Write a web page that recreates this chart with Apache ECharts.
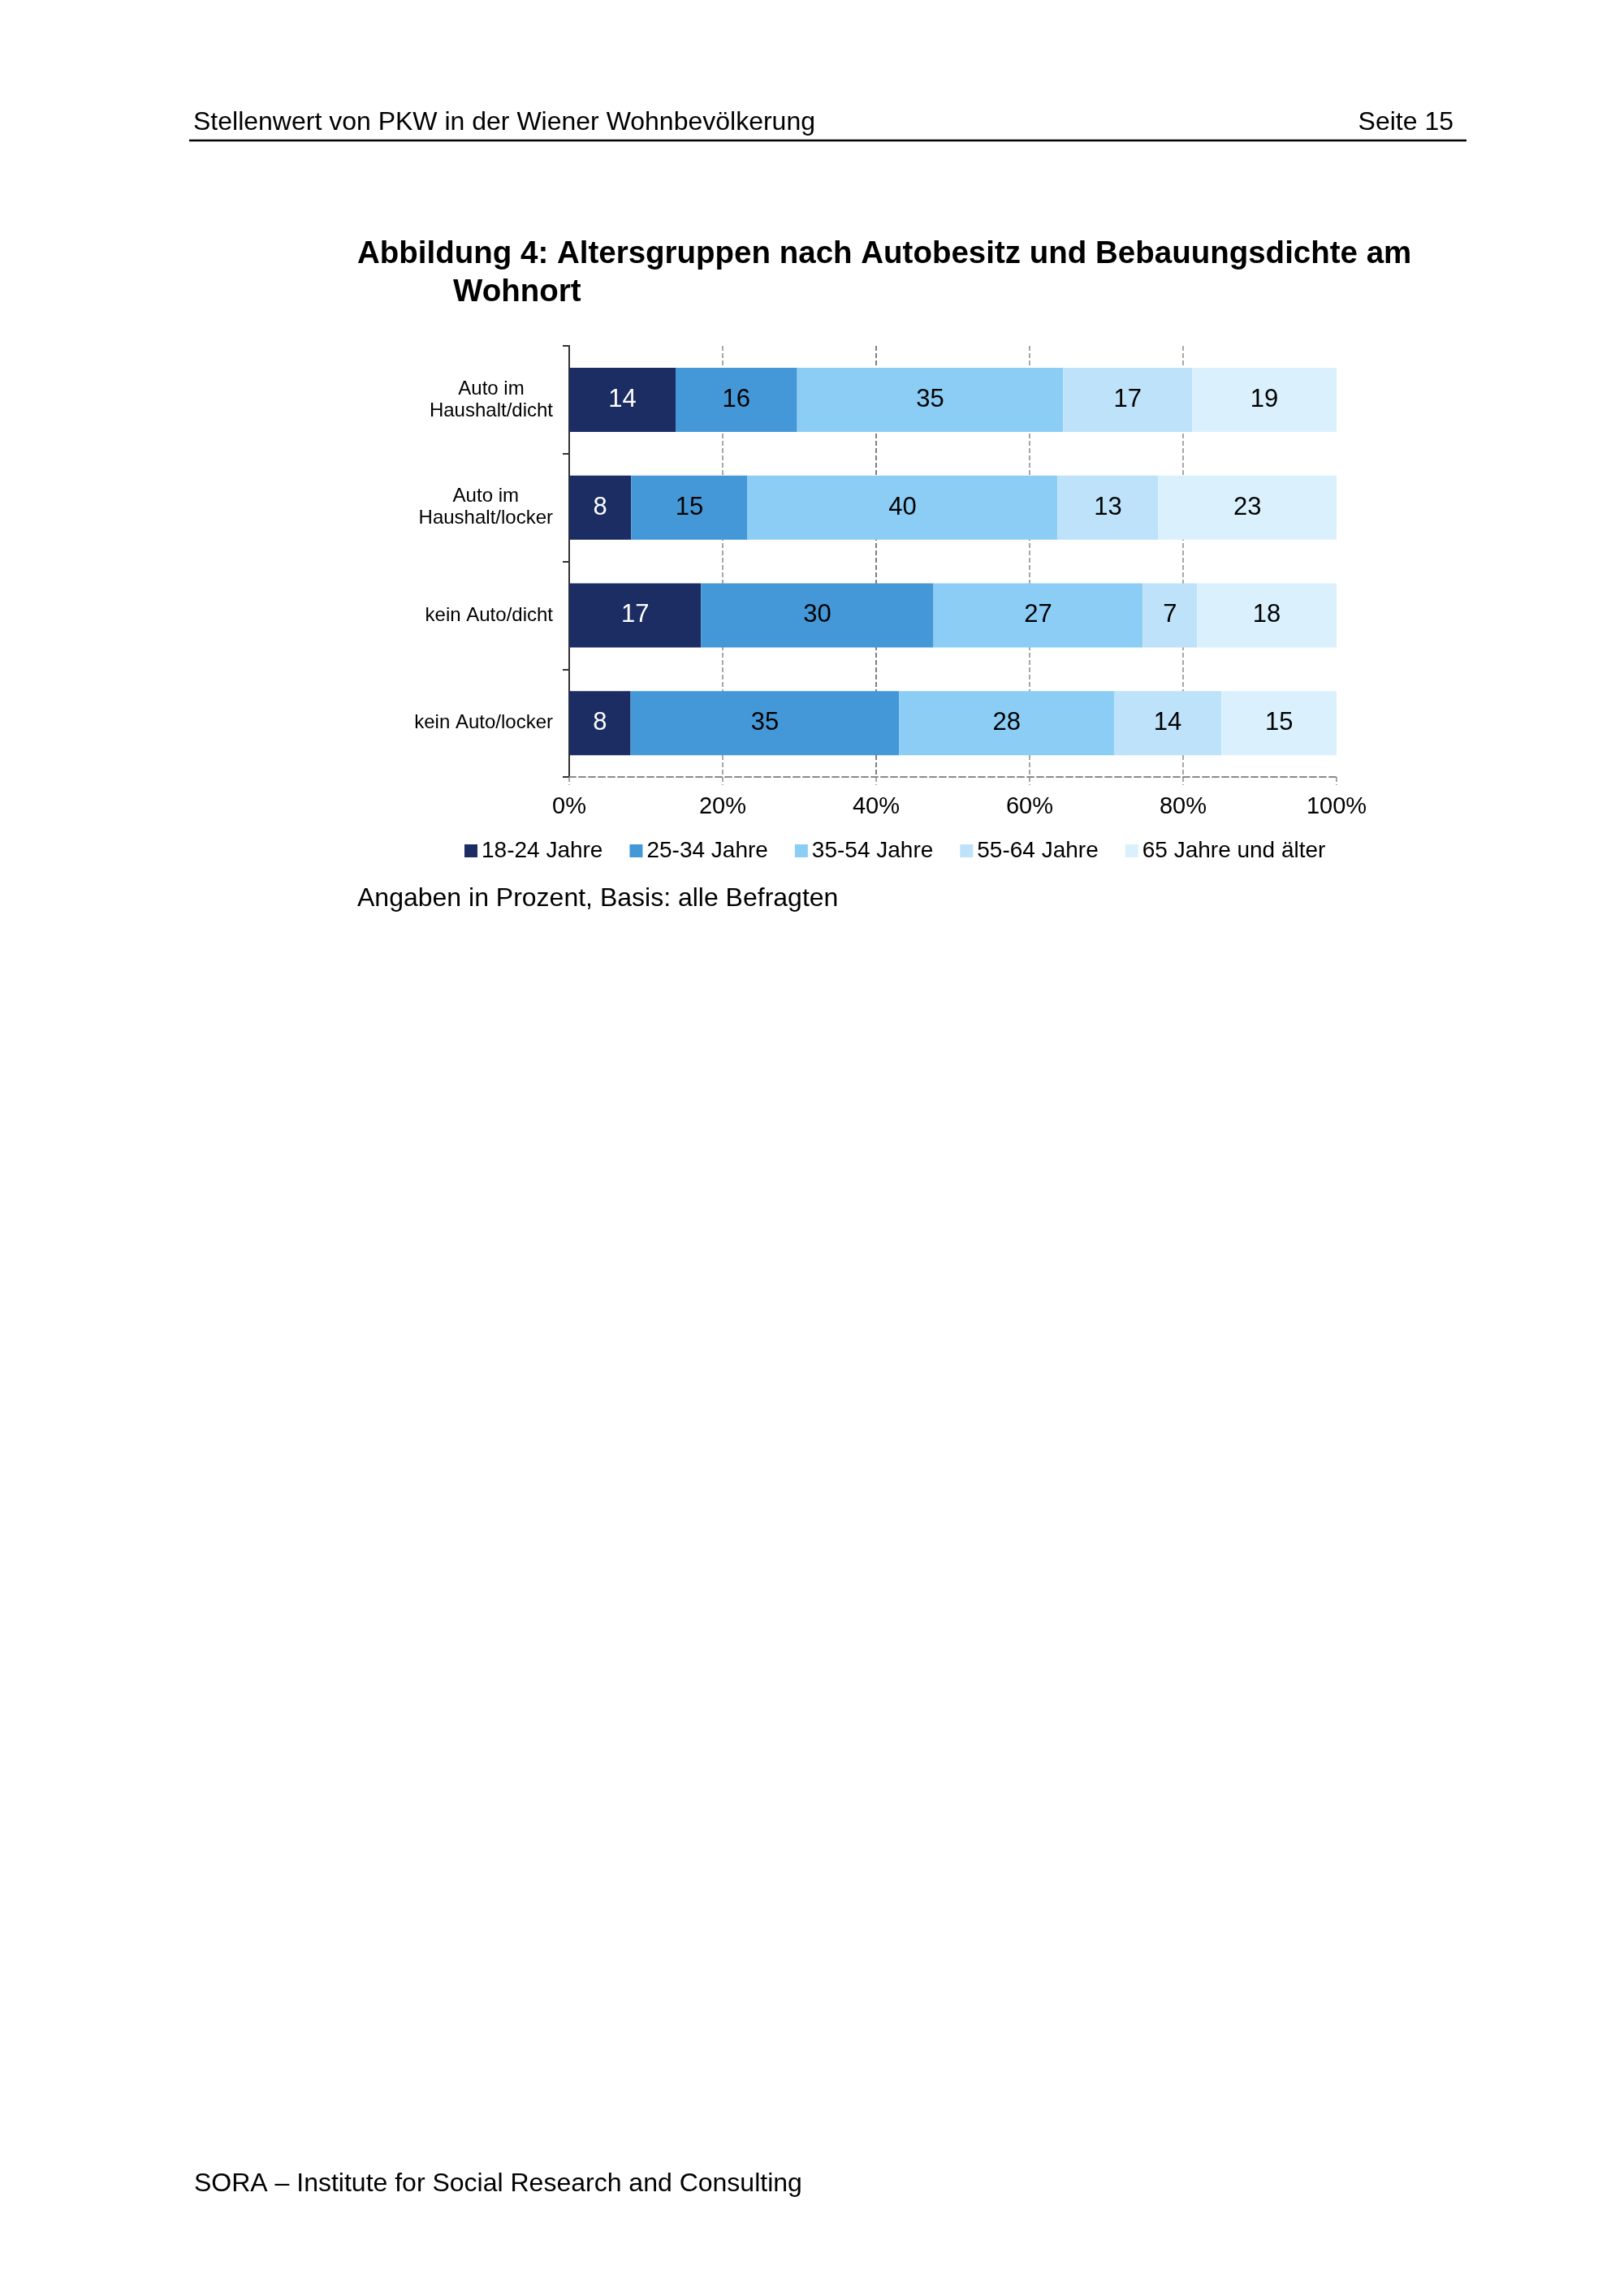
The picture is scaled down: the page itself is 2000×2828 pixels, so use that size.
<!DOCTYPE html>
<html>
<head>
<meta charset="utf-8">
<title>Altersgruppen nach Autobesitz und Bebauungsdichte</title>
<script src="https://cdn.jsdelivr.net/npm/echarts@6/dist/echarts.min.js"></script>
<style>
    html, body { margin: 0; padding: 0; background: #fff; }
    #chart { width: 2000px; height: 2828px; }
</style>
</head>
<body>
<div id="chart"></div>
<script>
// Werte in Prozent, wie im Diagramm beschriftet
var categories = ['Auto im\nHaushalt/dicht', 'Auto im\nHaushalt/locker', 'kein Auto/dicht', 'kein Auto/locker'];
var seriesNames = ['18-24 Jahre', '25-34 Jahre', '35-54 Jahre', '55-64 Jahre', '65 Jahre und älter'];
var age1824 = [14, 8, 17, 8];
var age2534 = [16, 15, 30, 35];
var age3554 = [35, 40, 27, 28];
var age5564 = [17, 13, 7, 14];
var age65 = [19, 23, 18, 15];
var xTicks = [0, 20, 40, 60, 80, 100];

var colors = ['#1c2d63', '#4498d8', '#8bcdf5', '#bde2f9', '#daf1fd'];
var labelColors = ['#ffffff', '#000000', '#000000', '#000000', '#000000'];
var font = '"Liberation Sans", Arial, Helvetica, sans-serif';

var allSeries = [age1824, age2534, age3554, age5564, age65];

// 100%-gestapelt: jede Zeile auf ihre Summe normiert (wie in Excel)
var rowSums = categories.map(function (c, i) {
    var s = 0;
    allSeries.forEach(function (arr) { s += arr[i]; });
    return s;
});

var chart = echarts.init(document.getElementById('chart'), null, { renderer: 'canvas' });

var series = allSeries.map(function (arr, k) {
    return {
        name: seriesNames[k],
        type: 'bar',
        stack: 'total',
        barWidth: 79,
        itemStyle: { color: colors[k] },
        label: {
            show: true,
            position: 'inside',
            color: labelColors[k],
            fontSize: 31,
            fontFamily: font,
            formatter: function (p) { return arr[p.dataIndex]; }
        },
        data: arr.map(function (v, i) { return v / rowSums[i] * 100; })
    };
});

var option = {
    animation: false,
    backgroundColor: '#ffffff',
    textStyle: { fontFamily: font },
    color: colors,
    grid: {
        left: 701,
        top: 426,
        width: 945,
        height: 531,
        containLabel: false
    },
    legend: {
        data: seriesNames,
        left: 567,
        top: 1029,
        icon: 'rect',
        itemWidth: 16,
        itemHeight: 16,
        itemGap: 33,
        textStyle: { fontSize: 28, color: '#000', fontFamily: font }
    },
    xAxis: {
        type: 'value',
        min: xTicks[0],
        max: xTicks[xTicks.length - 1],
        interval: 20,
        axisLine: {
            show: true,
            lineStyle: { color: '#8a8a8a', type: 'dashed', width: 2 }
        },
        axisTick: {
            show: true,
            length: 10,
            lineStyle: { color: '#8a8a8a', type: 'dashed', width: 1.5 }
        },
        splitLine: {
            show: true,
            showMinLine: false,
            showMaxLine: false,
            lineStyle: {
                color: ['#8a8a8a', '#555555', '#8a8a8a', '#8a8a8a', '#8a8a8a', '#8a8a8a'],
                type: 'dashed',
                width: 1.5
            }
        },
        axisLabel: {
            margin: 22,
            fontSize: 29,
            color: '#000',
            fontFamily: font,
            formatter: '{value}%'
        }
    },
    yAxis: {
        type: 'category',
        inverse: true,
        data: categories,
        axisLine: { show: true, lineStyle: { color: '#333', width: 2 } },
        axisTick: { show: true, length: 8, lineStyle: { color: '#333', width: 2 } },
        splitLine: { show: false },
        axisLabel: {
            margin: 20,
            color: '#000',
            formatter: function (v) {
                return v.split('\n').map(function (s) { return '{c|' + s + '}'; }).join('\n');
            },
            rich: {
                c: { fontSize: 24, lineHeight: 27, align: 'center', color: '#000', fontFamily: font }
            }
        }
    },
    graphic: [
        {
            type: 'text', x: 238, y: 151,
            style: { text: 'Stellenwert von PKW in der Wiener Wohnbevölkerung', font: '32px ' + font, fill: '#000', textAlign: 'left', textVerticalAlign: 'middle' }
        },
        {
            type: 'text', x: 1790, y: 151,
            style: { text: 'Seite 15', font: '32px ' + font, fill: '#000', textAlign: 'right', textVerticalAlign: 'middle' }
        },
        {
            type: 'line',
            shape: { x1: 233, y1: 173, x2: 1806, y2: 173 },
            style: { stroke: '#000', lineWidth: 2.5 }
        },
        {
            type: 'text', x: 440, y: 313,
            style: { text: 'Abbildung 4: Altersgruppen nach Autobesitz und Bebauungsdichte am', font: 'bold 38.5px ' + font, fill: '#000', textAlign: 'left', textVerticalAlign: 'middle' }
        },
        {
            type: 'text', x: 558, y: 360,
            style: { text: 'Wohnort', font: 'bold 38.5px ' + font, fill: '#000', textAlign: 'left', textVerticalAlign: 'middle' }
        },
        {
            type: 'text', x: 440, y: 1107,
            style: { text: 'Angaben in Prozent, Basis: alle Befragten', font: '32px ' + font, fill: '#000', textAlign: 'left', textVerticalAlign: 'middle' }
        },
        {
            type: 'text', x: 239, y: 2690,
            style: { text: 'SORA – Institute for Social Research and Consulting', font: '32px ' + font, fill: '#000', textAlign: 'left', textVerticalAlign: 'middle' }
        }
    ],
    series: series
};

chart.setOption(option);
</script>
</body>
</html>
